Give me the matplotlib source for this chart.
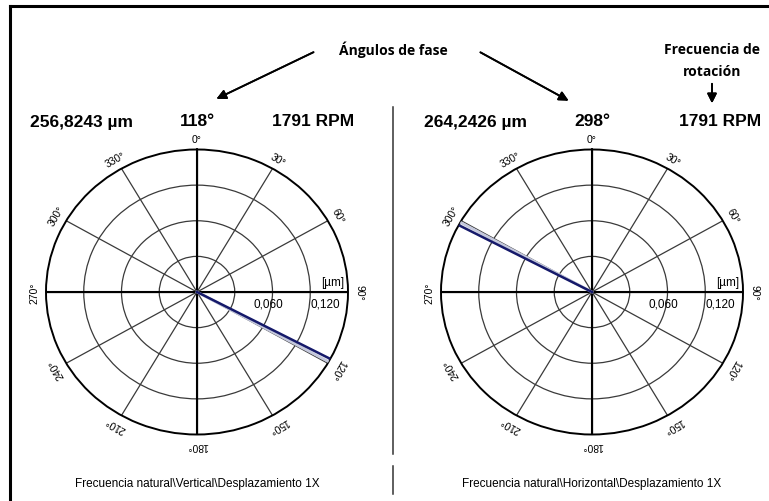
import numpy as np
import matplotlib
matplotlib.use("Agg")
import matplotlib.pyplot as plt
from matplotlib.lines import Line2D

# data
channels = ["Vertical", "Horizontal"]
amplitudes_um = [256.8243, 264.2426]
phases_deg = [118, 298]
rpm = [1791, 1791]
ring_values = [0.04, 0.08, 0.12]
r_max = 0.16
scale_values = [0.060, 0.120]
angle_ticks = list(range(0, 360, 30))

W, H = 769, 502
fig = plt.figure(figsize=(W / 100, H / 100), dpi=100)
fig.patch.set_facecolor("white")


def fx(x):
    return x / W


def fy(y):
    return 1 - y / H


def comma(v, nd):
    return f"{v:.{nd}f}".replace(".", ",")


# frame (only left and top edges visible in the crop)
fig.add_artist(Line2D([fx(10), fx(10)], [fy(7), 0], color="black", lw=2.2))
fig.add_artist(Line2D([fx(10), 1], [fy(7), fy(7)], color="black", lw=2.2))

# separator between the two panels
fig.add_artist(Line2D([fx(393), fx(393)], [fy(108), fy(455)], color="#333333", lw=1.1))
fig.add_artist(Line2D([fx(393), fx(393)], [fy(467), fy(495)], color="#333333", lw=1.1))

centers_x = [197, 592]
cy, rx, ry = 293, 151, 142.5

for i, cx in enumerate(centers_x):
    ax = fig.add_axes([fx(cx - rx), fy(cy + ry), 2 * rx / W, 2 * ry / H], projection="polar")
    ax.set_aspect("auto")
    ax.set_theta_zero_location("N")
    ax.set_theta_direction(-1)
    ax.set_ylim(0, r_max)
    ax.set_facecolor("white")
    ax.set_rgrids(ring_values, labels=[""] * len(ring_values))
    ax.set_thetagrids(angle_ticks, labels=[""] * len(angle_ticks))
    ax.grid(True, color="#3a3a3a", lw=0.9)
    ax.spines["polar"].set_linewidth(1.4)
    ax.spines["polar"].set_color("black")
    ax.tick_params(length=0, pad=0)

    # main cross axes
    for a in [0, 90, 180, 270]:
        ax.plot([np.deg2rad(a)] * 2, [0, r_max], color="black", lw=1.5, zorder=3)

    # angle labels, written along the circle
    for a in angle_ticks:
        ax.text(np.deg2rad(a), r_max * 1.075, f"{a}°", fontsize=7.5, family="Liberation Sans",
                rotation=-a, rotation_mode="anchor", ha="center", va="center", clip_on=False)

    # scale labels on the 90° axis
    for v in scale_values:
        ax.annotate(comma(v, 3), xy=(np.deg2rad(90), v), xytext=(0, -4),
                    textcoords="offset points", fontsize=8.5, family="Liberation Sans",
                    ha="left", va="top")
    ax.annotate("[µm]", xy=(np.deg2rad(90), r_max), xytext=(-3, 3),
                textcoords="offset points", fontsize=8.5, family="Liberation Sans",
                ha="right", va="bottom")

    # phase vector (clipped by the outer ring)
    th = np.deg2rad(phases_deg[i])
    ax.plot([th + np.deg2rad(1.3)] * 2, [0, amplitudes_um[i]], color="#c4c8dc", lw=2.0, zorder=4)
    ax.plot([th] * 2, [0, amplitudes_um[i]], color="#15196a", lw=1.8, zorder=5)

    # header row
    fig.text(fx(cx - 116), fy(122), f"{comma(amplitudes_um[i], 4)} µm", fontsize=12.5,
             weight="bold", family="Liberation Sans", ha="center", va="center")
    fig.text(fx(cx), fy(122), f"{phases_deg[i]}°", fontsize=12.5, weight="bold",
             family="Liberation Sans", ha="center", va="center")
    fig.text(fx(cx + 116 + (12 if i == 1 else 0)), fy(122), f"{rpm[i]} RPM", fontsize=12.5,
             weight="bold", family="Liberation Sans", ha="center", va="center")

    # caption
    fig.text(fx(cx), fy(484), f"Frecuencia natural\\{channels[i]}\\Desplazamiento 1X",
             fontsize=8.5, family="Liberation Sans", ha="center", va="center")

# annotations
note_font = dict(fontsize=10, weight="bold", family="Open Sans", ha="center", va="center")
fig.text(fx(393), fy(50), "Ángulos de fase", **note_font)
arrow = dict(arrowstyle="-|>", color="black", lw=1.3, mutation_scale=14)
fig.add_artist(plt.annotate("", xy=(fx(214), fy(101)), xytext=(fx(316), fy(52)),
                            xycoords="figure fraction", arrowprops=arrow))
fig.add_artist(plt.annotate("", xy=(fx(571), fy(103)), xytext=(fx(478), fy(52)),
                            xycoords="figure fraction", arrowprops=arrow))
fig.text(fx(712), fy(50), "Frecuencia de", **note_font)
fig.text(fx(712), fy(72), "rotación", **note_font)
fig.add_artist(plt.annotate("", xy=(fx(712), fy(107)), xytext=(fx(712), fy(82)),
                            xycoords="figure fraction", arrowprops=arrow))

fig.savefig("out.png", dpi=100)
